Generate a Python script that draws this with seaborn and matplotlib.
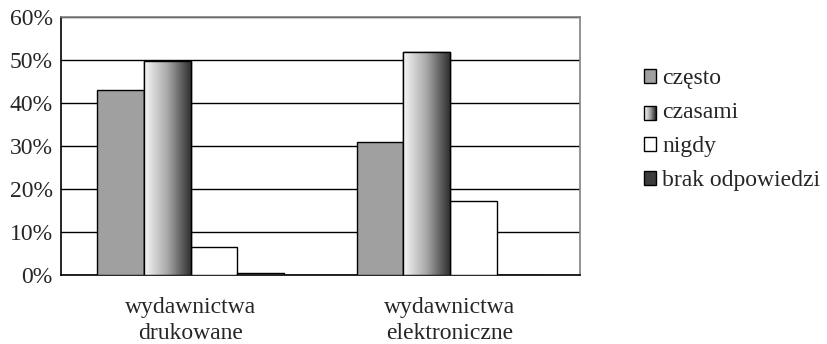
import seaborn as sns
import matplotlib.pyplot as plt
import matplotlib.patches as mpatches
from matplotlib.legend_handler import HandlerBase
import numpy as np
import pandas as pd

kategorie = ["wydawnictwa\ndrukowane", "wydawnictwa\nelektroniczne"]
odpowiedzi = ["często", "czasami", "nigdy", "brak odpowiedzi"]
czesto = [43.0, 31.0]
czasami = [49.7, 51.8]
nigdy = [6.5, 17.2]
brak = [0.6, 0.0]
yticks = [0, 10, 20, 30, 40, 50, 60]

kolory = {"często": "#a0a0a0", "czasami": "#b0b0b0", "nigdy": "#ffffff", "brak odpowiedzi": "#3c3c3c"}

rows = []
for seria, vals in zip(odpowiedzi, [czesto, czasami, nigdy, brak]):
    for k, v in zip(kategorie, vals):
        rows.append({"kategoria": k, "odpowiedz": seria, "procent": v})
df = pd.DataFrame(rows)

sns.set_style("white")
plt.rcParams["font.family"] = ["Liberation Serif", "DejaVu Serif"]
plt.rcParams["font.size"] = 17

fig = plt.figure(figsize=(8.27, 3.44), dpi=100)
ax = fig.add_axes([0.0738, 0.2, 0.627, 0.7506])

sns.barplot(data=df, x="kategoria", y="procent", hue="odpowiedz",
            hue_order=odpowiedzi, palette=kolory, width=0.72,
            edgecolor="black", linewidth=1.0, ax=ax, legend=False, zorder=3)

# gradient for "czasami"
grad = np.linspace(0, 1, 256).reshape(1, -1)
cmap = plt.matplotlib.colors.LinearSegmentedColormap.from_list(
    "g", ["#f8f8f8", "#a8a8a8", "#303030"])
n = len(kategorie)
for bar in ax.patches[n:2 * n]:
    x0, y0 = bar.get_x(), bar.get_y()
    w, h = bar.get_width(), bar.get_height()
    if h <= 0:
        continue
    im = ax.imshow(grad, cmap=cmap, aspect="auto", extent=[x0, x0 + w, y0, y0 + h],
                   zorder=3.5, interpolation="bilinear")
    im.set_clip_path(bar)
    r = mpatches.Rectangle((x0, y0), w, h, fill=False, edgecolor="black", lw=1.0, zorder=4)
    ax.add_patch(r)

ax.set_xlim(-0.5, n - 0.5)
ax.set_ylim(0, 60)
ax.set_yticks(yticks)
ax.set_yticklabels([f"{t}%" for t in yticks])
ax.yaxis.grid(True, color="black", lw=1.0, zorder=0)
ax.set_axisbelow(True)
ax.set_xlabel("")
ax.set_ylabel("")

ax.set_xticks(range(n))
ax.set_xticklabels(kategorie, linespacing=1.3)
ax.set_xticks([-0.5 + i for i in range(n + 1)], minor=True)
ax.tick_params(axis="x", which="major", length=0, pad=16)
ax.tick_params(axis="x", which="minor", length=5, width=1, color="black", direction="out")
ax.tick_params(axis="y", length=5, width=1, color="black", direction="out", pad=1)

for s in ["left", "bottom"]:
    ax.spines[s].set_color("black")
    ax.spines[s].set_linewidth(1.2)
for s in ["top", "right"]:
    ax.spines[s].set_color("#808080")
    ax.spines[s].set_linewidth(1.2)


class GradHandler(HandlerBase):
    def create_artists(self, legend, orig, xd, yd, w, h, fs, trans):
        arts = []
        k = 12
        for i in range(k):
            c = cmap(i / (k - 1))
            arts.append(mpatches.Rectangle((xd + w * i / k, yd), w / k + 0.1, h,
                                           facecolor=c, edgecolor="none", transform=trans))
        arts.append(mpatches.Rectangle((xd, yd), w, h, fill=False, edgecolor="black",
                                       lw=1.0, transform=trans))
        return arts


handles = [mpatches.Patch(facecolor=kolory[o], edgecolor="black", lw=1.0) for o in odpowiedzi]
hmap = {handles[1]: GradHandler()}
fig.legend(handles, odpowiedzi, handler_map=hmap, loc="center left",
           bbox_to_anchor=(0.7535, 0.623), frameon=False, handlelength=0.5,
           handleheight=0.5, handletextpad=0.25, labelspacing=0.55, fontsize=17)

plt.savefig("out.png", dpi=100)
